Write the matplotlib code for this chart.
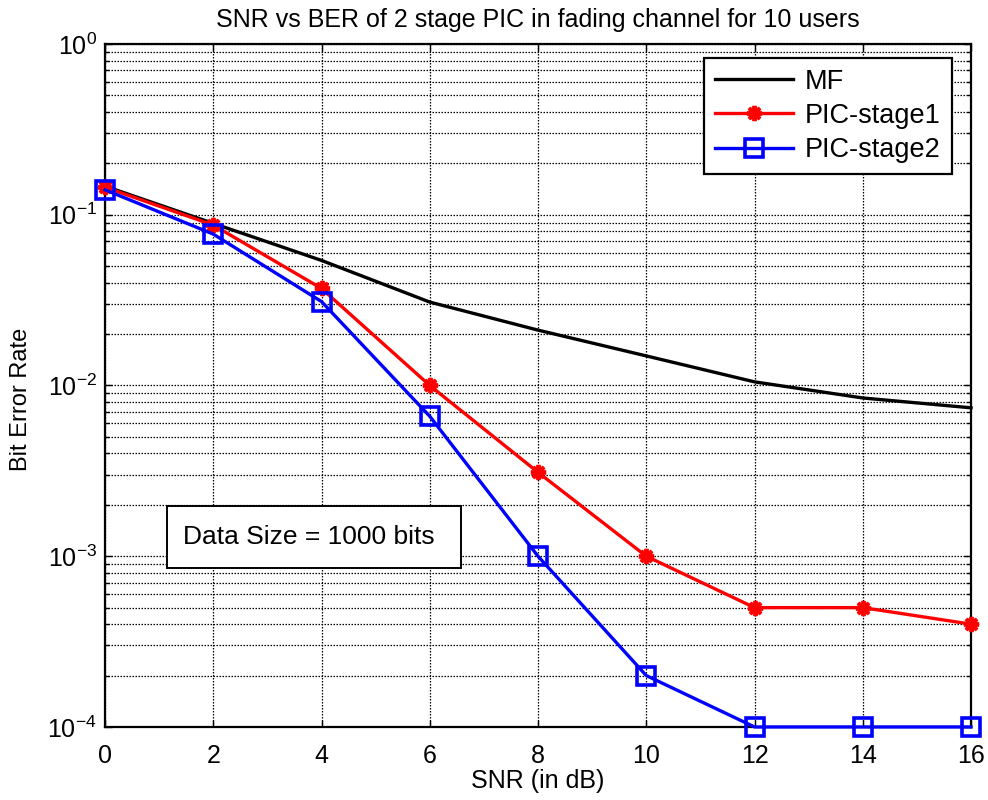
import matplotlib
matplotlib.use("Agg")
import matplotlib.pyplot as plt
from matplotlib.ticker import LogLocator, FixedLocator, NullFormatter
from matplotlib.patches import Rectangle

plt.rcParams['font.family'] = ['Liberation Sans', 'DejaVu Sans']
plt.rcParams['mathtext.fontset'] = 'custom'
plt.rcParams['mathtext.rm'] = 'Liberation Sans'
plt.rcParams['mathtext.it'] = 'Liberation Sans'
plt.rcParams['mathtext.default'] = 'regular'

snr_db = [0, 2, 4, 6, 8, 10, 12, 14, 16]
ber_mf = [0.147, 0.089, 0.054, 0.0308, 0.0211, 0.0149, 0.0105, 0.00845, 0.0074]
ber_pic1 = [0.145, 0.087, 0.037, 0.0100, 0.0031, 0.0010, 0.0005, 0.0005, 0.0004]
ber_pic2 = [0.140, 0.077, 0.031, 0.0066, 0.0010, 0.0002, 0.0001, 0.0001, 0.0001]
x_ticks = [0, 2, 4, 6, 8, 10, 12, 14, 16]
y_ticks = [1e-4, 1e-3, 1e-2, 1e-1, 1e0]
y_tick_labels = [r'$10^{-4}$', r'$10^{-3}$', r'$10^{-2}$', r'$10^{-1}$', r'$10^{0}$']

FS = 18

fig = plt.figure(figsize=(9.88, 8.0), dpi=100)
ax = fig.add_axes([0.1063, 0.0913, 0.8765, 0.8537])

ax.semilogy(snr_db, ber_mf, color='black', lw=2.4, label='MF', clip_on=False, zorder=3)
ax.semilogy(snr_db, ber_pic1, color='red', lw=2.4, marker=(8, 2, 0), ms=11, mew=2.8,
            mec='red', mfc='red', label='PIC-stage1', clip_on=False, zorder=3)
ax.semilogy(snr_db, ber_pic2, color='blue', lw=2.4, marker='s', ms=13,
            mfc='none', mec='blue', mew=2.6, label='PIC-stage2', clip_on=False, zorder=4)

ax.set_xlim(0, 16)
ax.set_ylim(1e-4, 1e0)
ax.xaxis.set_major_locator(FixedLocator(x_ticks))
ax.yaxis.set_major_locator(FixedLocator(y_ticks))
ax.yaxis.set_minor_locator(LogLocator(base=10, subs=range(2, 10), numticks=20))
ax.yaxis.set_minor_formatter(NullFormatter())
ax.set_yticklabels(y_tick_labels)

ax.grid(True, which='major', axis='both', color='black', linestyle=(0, (1.2, 1.2)), lw=0.9)
ax.grid(True, which='minor', axis='y', color='black', linestyle=(0, (1.2, 1.2)), lw=0.9)

ax.tick_params(axis='both', which='both', direction='in', top=True, right=True,
               labelsize=FS, length=5, width=1)
ax.tick_params(axis='x', pad=12)
ax.tick_params(axis='y', pad=6)
ax.tick_params(axis='y', which='minor', length=3)
for sp in ax.spines.values():
    sp.set_linewidth(1.6)

ax.set_xlabel('SNR (in dB)', fontsize=FS, labelpad=1)
ax.set_ylabel('Bit Error Rate', fontsize=17)
ax.yaxis.set_label_coords(-0.084, 0.48)
ax.set_title('SNR vs BER of 2 stage PIC in fading channel for 10 users', fontsize=FS, pad=12)

leg = ax.legend(loc='upper right', bbox_to_anchor=(0.978, 0.9795), borderaxespad=0,
                fontsize=19.5, frameon=True, fancybox=False, edgecolor='black',
                framealpha=1, handlelength=2.9, borderpad=0.4, labelspacing=0.3,
                handletextpad=0.45)
leg.get_frame().set_linewidth(1.6)

box = Rectangle((0.0715, 0.233), 0.339, 0.09, transform=ax.transAxes,
                facecolor='white', edgecolor='black', lw=1.4, zorder=5)
ax.add_patch(box)
ax.text(0.09, 0.278, 'Data Size = 1000 bits', transform=ax.transAxes,
        fontsize=19, va='center', ha='left', zorder=6)

fig.savefig('out.png', dpi=100)
